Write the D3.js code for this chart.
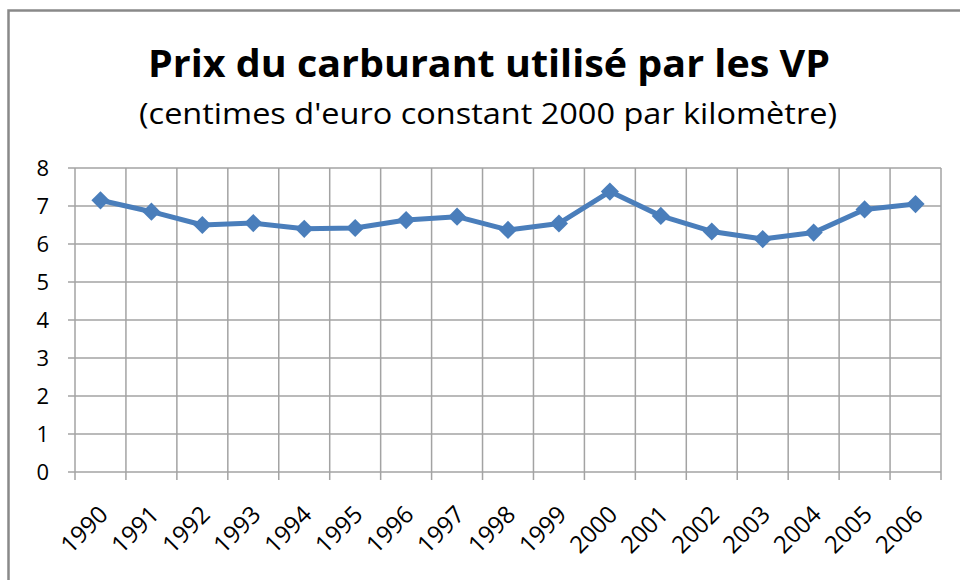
<!DOCTYPE html>
<html>
<head>
<meta charset="utf-8">
<script src="https://cdn.jsdelivr.net/npm/d3@7"></script>
<style>
  html, body { margin: 0; padding: 0; background: #fff; }
  svg { display: block; }
  text { font-family: "Open Sans", "Noto Sans", sans-serif; fill: #000; }
</style>
</head>
<body>
<svg id="chart" width="960" height="580"></svg>
<script>
const years = ["1990","1991","1992","1993","1994","1995","1996","1997","1998","1999","2000","2001","2002","2003","2004","2005","2006"];
const prices = [7.15, 6.85, 6.5, 6.55, 6.4, 6.42, 6.63, 6.72, 6.37, 6.54, 7.38, 6.74, 6.33, 6.13, 6.3, 6.91, 7.05];
const yTicks = [0, 1, 2, 3, 4, 5, 6, 7, 8];
const title = "Prix du carburant utilisé par les VP";
const subtitle = "(centimes d'euro constant 2000 par kilomètre)";

const svg = d3.select("#chart");
const L = 75, R = 941, T = 168, B = 472;
const gridColor = "#a3a3a3";
const lineColor = "#4a7ebb";

// outer chart border (top & left visible)
svg.append("rect")
  .attr("x", 8.5).attr("y", 10.5)
  .attr("width", 1000).attr("height", 1000)
  .attr("fill", "none").attr("stroke", "#898989").attr("stroke-width", 2.5);

// titles
svg.append("text")
  .attr("x", 489).attr("y", 77)
  .attr("text-anchor", "middle")
  .attr("font-size", 38).attr("font-weight", "bold")
  .attr("textLength", 682).attr("lengthAdjust", "spacingAndGlyphs")
  .text(title);
svg.append("text")
  .attr("x", 488).attr("y", 124)
  .attr("text-anchor", "middle")
  .attr("font-size", 29)
  .attr("textLength", 698).attr("lengthAdjust", "spacingAndGlyphs")
  .text(subtitle);

const x = d3.scaleBand().domain(years).range([L, R]).paddingInner(0).paddingOuter(0);
const y = d3.scaleLinear().domain([0, 8]).range([B, T]);

// horizontal gridlines (with left tick extension)
svg.append("g").selectAll("line").data(yTicks).join("line")
  .attr("x1", L - 7).attr("x2", R)
  .attr("y1", d => y(d)).attr("y2", d => y(d))
  .attr("stroke", gridColor).attr("stroke-width", 1.5);

// vertical gridlines at category boundaries (with tick extension below)
const bounds = years.map(d => x(d)).concat([x(years[years.length - 1]) + x.bandwidth()]);
svg.append("g").selectAll("line").data(bounds).join("line")
  .attr("x1", d => d).attr("x2", d => d)
  .attr("y1", T).attr("y2", B + 8)
  .attr("stroke", gridColor).attr("stroke-width", 1.5);

// y axis labels
const yAxis = svg.append("g")
  .attr("transform", `translate(${L},0)`)
  .call(d3.axisLeft(y).tickValues(yTicks).tickFormat(d3.format("d")).tickSize(0).tickPadding(26));
yAxis.select(".domain").remove();
yAxis.selectAll("text").attr("font-size", 22).attr("font-family", "'Open Sans', sans-serif").attr("fill", "#000");

// x axis labels
const xAxis = svg.append("g")
  .attr("transform", `translate(0,${B})`)
  .call(d3.axisBottom(x).tickSize(0));
xAxis.select(".domain").remove();
xAxis.selectAll("text")
  .attr("font-size", 24).attr("font-family", "'Open Sans', sans-serif").attr("fill", "#000")
  .attr("x", 0).attr("y", 0).attr("dy", 0)
  .attr("text-anchor", "end")
  .attr("transform", "translate(9,44) rotate(-45)");

// line
const line = d3.line()
  .x((d, i) => x(years[i]) + x.bandwidth() / 2)
  .y(d => y(d));
svg.append("path")
  .datum(prices)
  .attr("d", line)
  .attr("fill", "none")
  .attr("stroke", lineColor)
  .attr("stroke-width", 5)
  .attr("stroke-linejoin", "round");

// diamond markers
const sym = d3.symbol().type(d3.symbolSquare).size(165);
svg.append("g").selectAll("path").data(prices).join("path")
  .attr("d", sym)
  .attr("transform", (d, i) => `translate(${x(years[i]) + x.bandwidth() / 2},${y(d)}) rotate(45)`)
  .attr("fill", lineColor);
</script>
</body>
</html>
